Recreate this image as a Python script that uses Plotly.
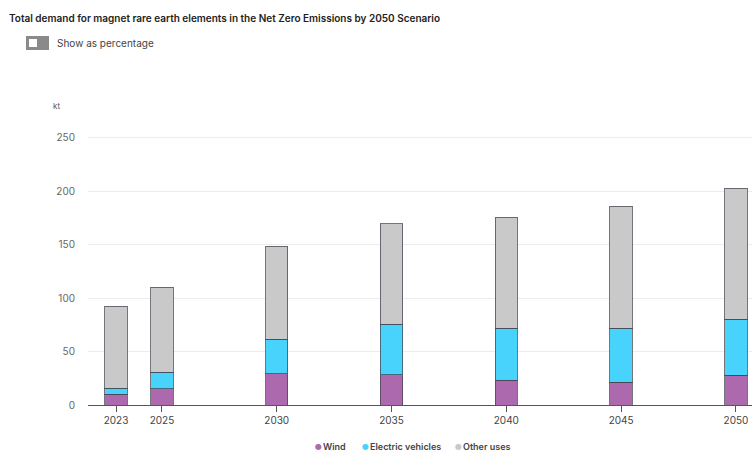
import plotly.graph_objects as go

# Demand for magnet rare earth elements, Net Zero Emissions by 2050 Scenario (kt)
years = [2023, 2025, 2030, 2035, 2040, 2045, 2050]
wind = [9.9, 15.2, 29.0, 28.3, 23.3, 21.5, 27.7]
electric_vehicles = [6.0, 15.6, 32.7, 47.0, 48.6, 50.4, 52.6]
other_uses = [76.6, 79.4, 86.8, 94.1, 103.7, 114.0, 122.4]

series_names = ["Wind", "Electric vehicles", "Other uses"]
series_values = [wind, electric_vehicles, other_uses]
series_colors = ["#ad69ae", "#48d3fd", "#c9c9c9"]
y_ticks = [0, 50, 100, 150, 200, 250]

FONT = "Inter, Lato, sans-serif"
W, H = 752, 452
ML, MR, MT, MB = 88, 0, 127, 47

fig = go.Figure()
for name, vals, col in zip(series_names, series_values, series_colors):
    fig.add_trace(go.Bar(
        x=years, y=vals, name=name, width=0.97,
        marker=dict(color=col, line=dict(color="rgba(70,70,80,0.75)", width=1)),
        showlegend=False,
    ))

fig.update_layout(
    barmode="stack",
    width=W, height=H,
    margin=dict(l=ML, r=MR, t=MT, b=MB, autoexpand=False),
    paper_bgcolor="white", plot_bgcolor="white",
    font=dict(family=FONT, size=11, color="#555"),
    showlegend=False,
    xaxis=dict(
        range=[2021.78, 2050.7], tickmode="array", tickvals=years,
        ticktext=[str(y) for y in years], showgrid=False, zeroline=False,
        showline=True, linecolor="#555", linewidth=1,
        ticks="outside", ticklen=6, tickcolor="#555",
        tickfont=dict(size=10, color="#444"),
    ),
    yaxis=dict(
        range=[0, 260], tickmode="array", tickvals=y_ticks,
        showgrid=True, gridcolor="#ececec", gridwidth=1, zeroline=False,
        ticks="", ticklabelstandoff=12,
        tickfont=dict(size=10, color="#666"),
    ),
)

# pixel helpers for header and legend items
pw, ph = W - ML - MR, H - MT - MB

def px(x):
    return (x - ML) / pw

def py(y):
    return (H - MB - y) / ph

fig.add_annotation(text="Total demand for magnet rare earth elements in the Net Zero Emissions by 2050 Scenario",
                   xref="paper", yref="paper", x=px(7), y=py(18), xanchor="left", yanchor="middle",
                   showarrow=False, font=dict(size=10, color="#222", family=FONT, weight=600))
fig.add_annotation(text="Show as percentage",
                   xref="paper", yref="paper", x=px(55), y=py(43), xanchor="left", yanchor="middle",
                   showarrow=False, font=dict(size=10, color="#444", family=FONT))
fig.add_annotation(text="kt",
                   xref="paper", yref="paper", x=px(51), y=py(106), xanchor="left", yanchor="middle",
                   showarrow=False, font=dict(size=8, color="#555", family=FONT))

# toggle switch
fig.add_shape(type="rect", xref="paper", yref="paper",
              x0=px(26), x1=px(49), y0=py(50), y1=py(36),
              fillcolor="#8a8a8a", line=dict(width=0))
fig.add_shape(type="rect", xref="paper", yref="paper",
              x0=px(29), x1=px(37), y0=py(47), y1=py(39),
              fillcolor="white", line=dict(width=0))

# compact legend with round swatches
legend_x = [313, 360, 453]
for name, col, lx in zip(series_names, series_colors, legend_x):
    fig.add_annotation(text="●", xref="paper", yref="paper", x=px(lx), y=py(446),
                       xanchor="left", yanchor="middle", showarrow=False,
                       font=dict(size=8, color=col, family="DejaVu Sans"))
    fig.add_annotation(text=name, xref="paper", yref="paper", x=px(lx + 8), y=py(446),
                       xanchor="left", yanchor="middle", showarrow=False,
                       font=dict(size=9, color="#444", family=FONT, weight=600))

fig.write_html("out.html")
